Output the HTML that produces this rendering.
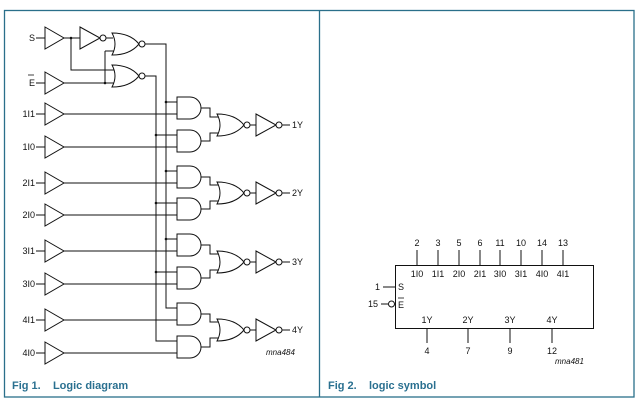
<!DOCTYPE html>
<html><head><meta charset="utf-8"><style>
html,body{margin:0;padding:0;background:#fff;}
svg{display:block;}
text{font-family:"Liberation Sans",Arial,sans-serif;font-size:9px;fill:#111;}
.cap{font-size:11px;font-weight:bold;fill:#2a7090;}
.it{font-style:italic;font-size:8px;}
</style></head><body>
<svg width="640" height="406" viewBox="0 0 640 406" xmlns="http://www.w3.org/2000/svg">
<defs>
<path id="buf" d="M0,-11 L19,0 L0,11 Z" fill="#fff" stroke="#111" stroke-width="1"/>
<g id="and"><path d="M0,-11 H13 A11,11 0 0 1 13,11 H0 Z" fill="#fff" stroke="#111" stroke-width="1"/></g>
<g id="nor"><path d="M0,-11 Q6,0 0,11 Q18,11 27,0 Q18,-11 0,-11 Z" fill="#fff" stroke="#111" stroke-width="1"/><circle cx="30" cy="0" r="3" fill="#fff" stroke="#111"/></g>
<g id="inv"><path d="M0,-11 L20,0 L0,11 Z" fill="#fff" stroke="#111"/><circle cx="23" cy="0" r="3" fill="#fff" stroke="#111"/></g>
</defs>
<rect x="4.5" y="10.5" width="629.5" height="386.5" fill="none" stroke="#2a6f8a" stroke-width="1.3"/>
<line x1="319.5" y1="10.5" x2="319.5" y2="397" stroke="#2a6f8a" stroke-width="1.3"/>

<g stroke="#111" stroke-width="1" fill="none">
<path d="M36,38 H45 M64,38 H80 M106,38 H113"/>
<path d="M71,38 V70 H114"/>
<path d="M36,83 H45 M64,83 H114"/>
<path d="M105,51 V83 M105,51 H114"/>
<path d="M145,44 H166 V308 H177"/>
<path d="M145,76 H156 V341 H177"/>
<path d="M166,102 H177 M156,135 H177 M166,171 H177 M156,203 H177 M166,239 H177 M156,272 H177"/>
<path d="M36,114 H45 M64,114 H177 M36,147 H45 M64,147 H177"/>
<path d="M36,183 H45 M64,183 H177 M36,215 H45 M64,215 H177"/>
<path d="M36,251 H45 M64,251 H177 M36,284 H45 M64,284 H177"/>
<path d="M36,320 H45 M64,320 H177 M36,353 H45 M64,353 H177"/>
<path d="M201,108 H210 V117 H220 M201,141 H210 V133 H220"/>
<path d="M201,177 H210 V185 H220 M201,209 H210 V201 H220"/>
<path d="M201,245 H210 V254 H220 M201,278 H210 V270 H220"/>
<path d="M201,314 H210 V322 H220 M201,347 H210 V338 H220"/>
<path d="M250,125 H256 M282,125 H290"/>
<path d="M250,193 H256 M282,193 H290"/>
<path d="M250,262 H256 M282,262 H290"/>
<path d="M250,330 H256 M282,330 H290"/>
</g>
<g fill="#111">
<circle cx="71" cy="38" r="1.3"/><circle cx="105" cy="83" r="1.3"/>
<circle cx="166" cy="102" r="1.3"/><circle cx="156" cy="135" r="1.3"/>
<circle cx="166" cy="171" r="1.3"/><circle cx="156" cy="203" r="1.3"/>
<circle cx="166" cy="239" r="1.3"/><circle cx="156" cy="272" r="1.3"/>
</g>
<use href="#buf" x="45" y="38"/><use href="#inv" x="80" y="38"/>
<use href="#buf" x="45" y="83"/>
<use href="#nor" x="112" y="44"/><use href="#nor" x="112" y="76"/>
<use href="#buf" x="45" y="114"/><use href="#buf" x="45" y="147"/>
<use href="#buf" x="45" y="183"/><use href="#buf" x="45" y="215"/>
<use href="#buf" x="45" y="251"/><use href="#buf" x="45" y="284"/>
<use href="#buf" x="45" y="320"/><use href="#buf" x="45" y="353"/>
<use href="#and" x="177" y="108"/><use href="#and" x="177" y="141"/>
<use href="#and" x="177" y="177"/><use href="#and" x="177" y="209"/>
<use href="#and" x="177" y="245"/><use href="#and" x="177" y="278"/>
<use href="#and" x="177" y="314"/><use href="#and" x="177" y="347"/>
<use href="#nor" x="217" y="125"/><use href="#nor" x="217" y="193"/>
<use href="#nor" x="217" y="262"/><use href="#nor" x="217" y="330"/>
<use href="#inv" x="256" y="125"/><use href="#inv" x="256" y="193"/>
<use href="#inv" x="256" y="262"/><use href="#inv" x="256" y="330"/>

<g text-anchor="end">
<text x="35" y="41">S</text>
<text x="35" y="86">E</text>
<text x="35" y="117">1I1</text><text x="35" y="150">1I0</text>
<text x="35" y="186">2I1</text><text x="35" y="218">2I0</text>
<text x="35" y="254">3I1</text><text x="35" y="287">3I0</text>
<text x="35" y="323">4I1</text><text x="35" y="356">4I0</text>
</g>
<line x1="28" y1="75" x2="34" y2="75" stroke="#111" stroke-width="0.8"/>
<text x="292" y="128">1Y</text><text x="292" y="196">2Y</text>
<text x="292" y="265">3Y</text><text x="292" y="333">4Y</text>
<text class="it" x="266" y="355">mna484</text>
<text class="cap" x="12" y="389">Fig 1.&#160;&#160;&#160;&#160;Logic diagram</text>

<rect x="395.5" y="265.5" width="198" height="63" fill="none" stroke="#111"/>
<g stroke="#111" fill="none">
<path d="M417,250 V265 M438,250 V265 M459,250 V265 M480,250 V265 M500,250 V265 M521,250 V265 M542,250 V265 M563,250 V265"/>
<path d="M383,287 H395 M381,304 H388"/>
<circle cx="391.5" cy="304" r="3" fill="#fff"/>
<path d="M427,329 V343 M468,329 V343 M510,329 V343 M552,329 V343"/>
</g>
<g text-anchor="middle">
<text x="417" y="246">2</text><text x="438" y="246">3</text><text x="459" y="246">5</text><text x="480" y="246">6</text>
<text x="500" y="246">11</text><text x="521" y="246">10</text><text x="542" y="246">14</text><text x="563" y="246">13</text>
<text x="417" y="277">1I0</text><text x="438" y="277">1I1</text><text x="459" y="277">2I0</text><text x="480" y="277">2I1</text>
<text x="500" y="277">3I0</text><text x="521" y="277">3I1</text><text x="542" y="277">4I0</text><text x="563" y="277">4I1</text>
<text x="427" y="323">1Y</text><text x="468" y="323">2Y</text><text x="510" y="323">3Y</text><text x="552" y="323">4Y</text>
<text x="427" y="354">4</text><text x="468" y="354">7</text><text x="510" y="354">9</text><text x="552" y="354">12</text>
</g>
<text x="375" y="290">1</text><text x="368" y="307">15</text>
<text x="398" y="290">S</text><text x="398" y="308">E</text>
<line x1="398" y1="298" x2="404" y2="298" stroke="#111" stroke-width="0.8"/>
<text class="it" x="555" y="364">mna481</text>
<text class="cap" x="328" y="389">Fig 2.&#160;&#160;&#160;&#160;logic symbol</text>
</svg>
</body></html>
